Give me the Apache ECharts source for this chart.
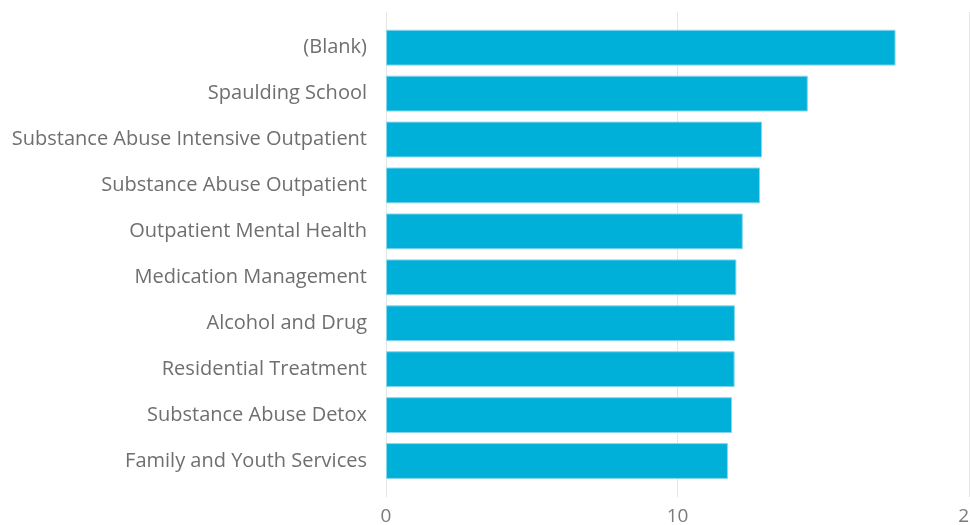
<!DOCTYPE html>
<html>
<head>
<meta charset="utf-8">
<script src="https://cdn.jsdelivr.net/npm/echarts@6/dist/echarts.min.js"></script>
<style>
  html, body { margin: 0; padding: 0; background: #fff; }
  #chart { width: 970px; height: 525px; }
</style>
</head>
<body>
<div id="chart"></div>
<script>
// Programs, listed top to bottom
const categories = [
  '(Blank)',
  'Spaulding School',
  'Substance Abuse Intensive Outpatient',
  'Substance Abuse Outpatient',
  'Outpatient Mental Health',
  'Medication Management',
  'Alcohol and Drug',
  'Residential Treatment',
  'Substance Abuse Detox',
  'Family and Youth Services'
];
const values = [17.48, 14.47, 12.90, 12.83, 12.24, 12.02, 11.97, 11.96, 11.87, 11.73];
const xTicks = { min: 0, max: 20, interval: 10 };

const FONT = '"Open Sans", "Noto Sans", sans-serif';
const chart = echarts.init(document.getElementById('chart'));

const LEFT = 386, RIGHT = 1;

chart.setOption({
  animation: false,
  grid: [
    // frame carrying the vertical gridlines and the value labels
    { left: LEFT, right: RIGHT, top: 12, bottom: 28, outerBoundsMode: 'none', containLabel: false },
    // bar area
    { left: LEFT, right: RIGHT, top: 24.7, bottom: 41, outerBoundsMode: 'none', containLabel: false }
  ],
  xAxis: [
    {
      type: 'value', gridIndex: 0,
      min: xTicks.min, max: xTicks.max, interval: xTicks.interval,
      axisLine: { show: false }, axisTick: { show: false },
      splitLine: { show: true, lineStyle: { color: '#e6e6e6', width: 1 } },
      axisLabel: { color: '#7a7a7a', fontSize: 19, fontFamily: FONT, margin: 10 }
    },
    {
      type: 'value', gridIndex: 1,
      min: xTicks.min, max: xTicks.max, interval: xTicks.interval,
      show: false
    }
  ],
  yAxis: [
    {
      type: 'category', gridIndex: 0, data: categories, inverse: true, show: false
    },
    {
      type: 'category', gridIndex: 1, data: categories, inverse: true,
      axisLine: { show: false }, axisTick: { show: false },
      splitLine: { show: false },
      axisLabel: { color: '#6f6f6f', fontSize: 20, fontFamily: FONT, margin: 19 }
    }
  ],
  series: [
    {
      type: 'bar', xAxisIndex: 1, yAxisIndex: 1,
      data: values,
      barCategoryGap: '22%',
      itemStyle: { color: '#01B0D9', borderColor: '#86d6ec', borderWidth: 1 },
      silent: true
    }
  ]
});
</script>
</body>
</html>
